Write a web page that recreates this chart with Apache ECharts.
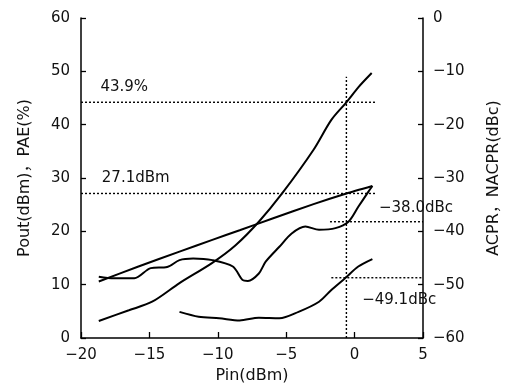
<!DOCTYPE html>
<html>
<head>
<meta charset="utf-8">
<script src="https://cdn.jsdelivr.net/npm/echarts@6/dist/echarts.min.js"></script>
<style>
  html, body { margin: 0; padding: 0; background: #fff; }
  #chart { width: 510px; height: 389px; }
</style>
</head>
<body>
<div id="chart"></div>
<script>
// Pout (dBm) vs Pin
var poutPin = [-18.7, -15.8, -12.8, -10.4, -8.4, -6, -3, -0.6, 1.3];
var poutVal = [10.6, 13.4, 16.2, 18.4, 20.2, 22.4, 25.1, 27.1, 28.5];
// PAE (%)
var paePin = [-18.7, -16.5, -14.8, -12.8, -10.4, -8.7, -7.0, -5.3, -3.0, -1.7, -0.6, 0.3, 1.25];
var paeVal = [3.2, 5.2, 6.8, 10.3, 14.1, 17.4, 21.8, 27.1, 35.3, 40.9, 44.2, 47.1, 49.7];
// ACPR (dBc), right axis
var acprPin = [-18.7, -17.6, -16.1, -14.9, -13.7, -12.8, -11.8, -10.4, -8.9, -8.2, -7.8, -7.0, -6.5, -5.5, -4.6, -3.6, -2.6, -1.4, -0.45, 0.27, 1.0, 1.3];
var acprVal = [-48.5, -48.8, -48.8, -46.9, -46.7, -45.4, -45.1, -45.4, -46.6, -49.1, -49.3, -47.9, -45.7, -42.9, -40.4, -39.1, -39.7, -39.4, -38.2, -35.4, -32.6, -31.5];
// NACPR (dBc), right axis
var nacprPin = [-12.8, -11.4, -9.9, -8.4, -7.0, -5.5, -4.1, -2.6, -1.7, -0.7, 0.27, 1.3];
var nacprVal = [-55.1, -56.0, -56.3, -56.7, -56.2, -56.3, -55.1, -53.2, -51.0, -48.8, -46.6, -45.2];

// dotted guide lines
var markPin = -0.6;
var paeMark = 44.2, poutMark = 27.1;
var acprMark = -38.2, nacprMark = -48.7;
var guideEnd = 1.5;

// annotation texts and anchors (x, left-axis y)
var noteText = ['43.9%', '27.1dBm', '\u221238.0dBc', '\u221249.1dBc'];
var noteX = [-16.84, -16.0, 4.49, 3.26];
var noteY = [47.1, 30.0, 24.4, 7.1];

function zip(xs, ys) {
  return xs.map(function (x, i) { return [x, ys[i]]; });
}
function minus(v) {
  return v < 0 ? '\u2212' + Math.abs(v) : String(v);
}

var font = 'DejaVu Sans, Noto Sans CJK JP';
var ink = '#111';
var curve = { color: '#000', width: 2 };
var dots = { color: '#000', width: 1.4, type: [2, 2] };

var myChart = echarts.init(document.getElementById('chart'));
myChart.setOption({
  animation: false,
  textStyle: { fontFamily: font },
  grid: { left: 81, right: 85, top: 18, bottom: 51 },
  xAxis: {
    type: 'value',
    min: -20, max: 5, interval: 5,
    name: 'Pin(dBm)',
    nameLocation: 'middle',
    nameGap: 29,
    nameTextStyle: { fontSize: 16, color: ink, fontFamily: font },
    axisLine: { onZero: false, lineStyle: { color: '#000', width: 1.5 } },
    axisTick: { inside: true, length: 6, lineStyle: { color: '#000', width: 1.3 } },
    axisLabel: { fontSize: 15, color: ink, margin: 10, formatter: minus },
    splitLine: { show: false }
  },
  yAxis: [
    {
      type: 'value',
      min: 0, max: 60, interval: 10,
      name: 'Pout(dBm)\uFF0CPAE(%)',
      nameLocation: 'middle',
      nameRotate: 90,
      nameGap: 48,
      nameTextStyle: { fontSize: 16, color: ink, fontFamily: font },
      axisLine: { show: true, onZero: false, lineStyle: { color: '#000', width: 1.5 } },
      axisTick: { show: true, inside: true, length: 5, lineStyle: { color: '#000', width: 1.3 } },
      axisLabel: { fontSize: 15, color: ink, margin: 11 },
      splitLine: { show: false }
    },
    {
      type: 'value',
      position: 'right',
      min: -60, max: 0, interval: 10,
      name: 'ACPR\uFF0CNACPR(dBc)',
      nameLocation: 'middle',
      nameRotate: 90,
      nameGap: 63,
      nameTextStyle: { fontSize: 16, color: ink, fontFamily: font },
      axisLine: { show: true, onZero: false, lineStyle: { color: '#000', width: 1.5 } },
      axisTick: { show: true, inside: true, length: 5, lineStyle: { color: '#000', width: 1.3 } },
      axisLabel: { fontSize: 15, color: ink, margin: 10, formatter: minus },
      splitLine: { show: false }
    }
  ],
  series: [
    { name: 'Pout', type: 'line', data: zip(poutPin, poutVal), smooth: 0.2, showSymbol: false, lineStyle: curve },
    { name: 'PAE', type: 'line', data: zip(paePin, paeVal), smooth: 0.3, showSymbol: false, lineStyle: curve },
    { name: 'ACPR', type: 'line', yAxisIndex: 1, data: zip(acprPin, acprVal), smooth: 0.3, showSymbol: false, lineStyle: curve },
    { name: 'NACPR', type: 'line', yAxisIndex: 1, data: zip(nacprPin, nacprVal), smooth: 0.3, showSymbol: false, lineStyle: curve },
    { type: 'line', data: [[-20, paeMark], [guideEnd, paeMark]], showSymbol: false, lineStyle: dots },
    { type: 'line', data: [[-20, poutMark], [guideEnd, poutMark]], showSymbol: false, lineStyle: dots },
    { type: 'line', data: [[markPin, 0], [markPin, 49]], showSymbol: false, lineStyle: dots },
    { type: 'line', yAxisIndex: 1, data: [[-1.8, acprMark], [5, acprMark]], showSymbol: false, lineStyle: dots },
    { type: 'line', yAxisIndex: 1, data: [[-1.7, nacprMark], [5, nacprMark]], showSymbol: false, lineStyle: dots },
    {
      type: 'scatter',
      symbolSize: 0,
      itemStyle: { opacity: 1, color: ink },
      data: noteText.map(function (t, i) { return { value: [noteX[i], noteY[i]], name: t }; }),
      label: {
        show: true,
        position: 'inside',
        formatter: function (p) { return p.name; },
        fontSize: 15,
        color: ink,
        opacity: 1,
        textBorderWidth: 0,
        fontFamily: font
      }
    }
  ]
});
</script>
</body>
</html>
